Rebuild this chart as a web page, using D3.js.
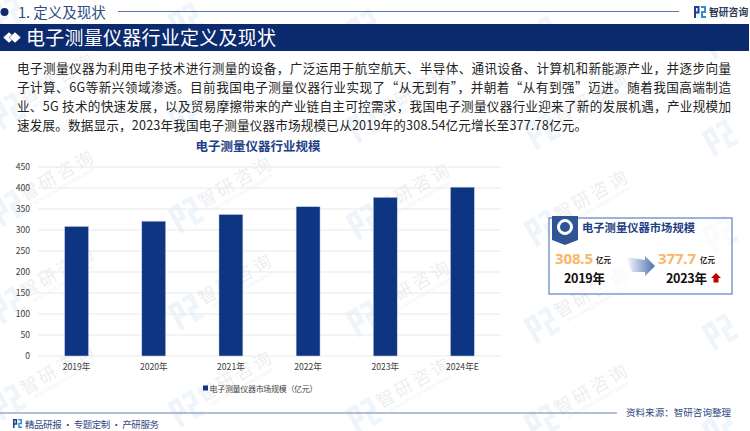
<!DOCTYPE html>
<html>
<head>
<meta charset="utf-8">
<script src="https://cdnjs.cloudflare.com/ajax/libs/d3/7.8.5/d3.min.js"></script>
<style>
	html, body { margin: 0; padding: 0; background: #fff; }
	svg { display: block; font-family: "Noto Sans CJK SC", "Noto Sans", sans-serif; }
	.axis path, .axis line { display: none; }
	.axis text { font-size: 8.6px; fill: #404040; font-family: "Noto Sans CJK SC", "Noto Sans", sans-serif; }
</style>
</head>
<body>
<div id="chart"></div>
<script>
//chart data
const years = ["2019年", "2020年", "2021年", "2022年", "2023年", "2024年E"];
const marketSize = [308.54, 321, 337, 355.5, 377.78, 402];
const yTicks = [0, 50, 100, 150, 200, 250, 300, 350, 400, 450];

//page text
const bodyLines = [
	"电子测量仪器为利用电子技术进行测量的设备，广泛运用于航空航天、半导体、通讯设备、计算机和新能源产业，并逐步向量",
	"子计算、6G等新兴领域渗透。目前我国电子测量仪器行业实现了“从无到有”，并朝着“从有到强”迈进。随着我国高端制造",
	"业、5G 技术的快速发展，以及贸易摩擦带来的产业链自主可控需求，我国电子测量仪器行业迎来了新的发展机遇，产业规模加",
	"速发展。数据显示，2023年我国电子测量仪器市场规模已从2019年的308.54亿元增长至377.78亿元。"
];
const bodyWidths = [714, 714, 714, 570];

const navy = "#0c2a6e", barBlue = "#0d3582", titleBlue = "#1f3f86";

let svg = d3.select("#chart").append("svg")
	.attr("width", 750)
	.attr("height", 431);

//logo mark, two interlocked pieces
function logo(g, size, c1, c2) {
	let s = size / 12;
	g.append("path")
		.attr("d", `M0 ${12*s}V0H${5.5*s}V${7.5*s}H${2*s}V${12*s}Z M${2*s} ${2*s}V${5.5*s}H${3.5*s}V${2*s}Z`)
		.attr("fill-rule", "evenodd")
		.attr("fill", c1);
	g.append("path")
		.attr("d", `M${7*s} 0H${12*s}V${7*s}H${9*s}V${10*s}H${12*s}V${12*s}H${7*s}V${5*s}H${10*s}V${2*s}H${7*s}Z`)
		.attr("fill", c2);
}

/* WATERMARK */
let wm = svg.append("g").attr("class", "watermark");
d3.range(0, 5).forEach(function(i) {
	d3.range(-3, 2).forEach(function(j) {
		let lx = 8 + 178 * i, ly = 305 + 6.7 * i + 97 * j;
		let lg = wm.append("g")
			.attr("transform", `translate(${lx},${ly}) rotate(-30) translate(-14,-14)`)
			.attr("opacity", 0.07);
		logo(lg, 28, "#2f78c0", "#2f90d0");
		let tx = lx + 51, ty = ly - 31;
		//only whole wordmarks, the page edge would cut the others
		if (ty < 26 || tx > 705) { return; }
		let tg = wm.append("g")
			.attr("transform", `translate(${tx},${ty}) rotate(-30)`)
			.attr("fill", "#50607a")
			.attr("opacity", 0.1);
		tg.append("text")
			.attr("text-anchor", "middle")
			.attr("y", 4)
			.style("font-size", "18px")
			.style("letter-spacing", "3px")
			.text("智研咨询");
		tg.append("text")
			.attr("text-anchor", "middle")
			.attr("y", 12)
			.style("font-size", "4.5px")
			.text("INTELLIGENCE RESEARCH GROUP");
	});
});

/* HEADER */
svg.append("circle").attr("cx", 4.5).attr("cy", 12).attr("r", 4).attr("fill", navy);
svg.append("text")
	.attr("x", 18).attr("y", 18)
	.attr("fill", "#2f4a7f")
	.style("font-size", "14.5px")
	.text("1. 定义及现状");
svg.append("line")
	.attr("x1", 118).attr("x2", 679).attr("y1", 11.5).attr("y2", 11.5)
	.attr("stroke", "#5a74a8").attr("stroke-width", 1);
let topLogo = svg.append("g").attr("transform", "translate(694,6)");
logo(topLogo, 12, "#1c3f94", "#2f8fd6");
svg.append("text")
	.attr("x", 709).attr("y", 16)
	.attr("fill", "#2b3a55")
	.style("font-size", "9.8px").style("font-weight", 700)
	.text("智研咨询");

svg.append("rect")
	.attr("x", 0).attr("y", 24).attr("width", 749).attr("height", 27)
	.attr("fill", navy);
//two white diamonds in the band
[9, 15].forEach(function(cx) {
	svg.append("path")
		.attr("d", `M${cx - 6} 37.5L${cx} 32L${cx + 6} 37.5L${cx} 43Z`)
		.attr("fill", "#fff")
		.attr("stroke", navy).attr("stroke-width", 0.5);
});
svg.append("text")
	.attr("x", 26).attr("y", 45)
	.attr("fill", "#fff")
	.attr("textLength", 250)
	.style("font-size", "19px")
	.text("电子测量仪器行业定义及现状");

svg.selectAll(".body-line")
	.data(bodyLines)
	.enter().append("text")
	.attr("class", "body-line")
	.attr("x", 17)
	.attr("y", function(d, i) { return 72.5 + i * 19; })
	.attr("textLength", function(d, i) { return bodyWidths[i]; })
	.attr("fill", "#222")
	.style("font-size", "12.6px")
	.text(function(d) { return d; });

/* BAR CHART */
let x = d3.scaleBand().domain(years).range([38, 501]).paddingInner(0.69).paddingOuter(0.345);
let y = d3.scaleLinear().domain([0, 450]).range([356, 167]);

svg.append("text")
	.attr("x", 258).attr("y", 150.5)
	.attr("text-anchor", "middle")
	.attr("fill", titleBlue)
	.style("font-size", "12.5px").style("font-weight", 700)
	.text("电子测量仪器行业规模");

svg.append("g").selectAll("line")
	.data(yTicks)
	.enter().append("line")
	.attr("x1", 38).attr("x2", 501)
	.attr("y1", function(d) { return y(d); })
	.attr("y2", function(d) { return y(d); })
	.attr("stroke", "#e9e9e9").attr("stroke-width", 1.2);

svg.append("g").attr("class", "axis")
	.attr("transform", "translate(38,0)")
	.call(d3.axisLeft(y).tickValues(yTicks).tickSize(0).tickPadding(8));

svg.append("g").attr("class", "axis")
	.attr("transform", "translate(0,356)")
	.call(d3.axisBottom(x).tickSize(0).tickPadding(8));

svg.selectAll(".bar")
	.data(marketSize)
	.enter().append("rect")
	.attr("class", "bar")
	.attr("x", function(d, i) { return x(years[i]); })
	.attr("y", function(d) { return y(d); })
	.attr("width", x.bandwidth())
	.attr("height", function(d) { return y(0) - y(d); })
	.attr("fill", barBlue)
	.attr("stroke", "#c9d5ea").attr("stroke-width", 0.5);

//legend
svg.append("rect")
	.attr("x", 203).attr("y", 385.5).attr("width", 5).attr("height", 5)
	.attr("fill", barBlue);
svg.append("text")
	.attr("x", 209.5).attr("y", 391.5)
	.attr("textLength", 108)
	.attr("fill", "#404040")
	.style("font-size", "8px")
	.text("电子测量仪器市场规模（亿元）");

/* MARKET SIZE PANEL */
let defs = svg.append("defs");
let grad = defs.append("linearGradient").attr("id", "arrowGrad");
grad.append("stop").attr("offset", "0%").attr("stop-color", "#ffffff");
grad.append("stop").attr("offset", "100%").attr("stop-color", "#4a6fb0");

svg.append("rect")
	.attr("x", 549).attr("y", 218).attr("width", 183).attr("height", 76)
	.attr("fill", "#fff").attr("fill-opacity", 0.6)
	.attr("stroke", "#5b82c0").attr("stroke-width", 1.2);
svg.append("path")
	.attr("d", "M552 216H578V240L565 245L552 240Z")
	.attr("fill", "#2f5597");
svg.append("circle").attr("cx", 565).attr("cy", 227).attr("r", 7.5)
	.attr("fill", "#fff").attr("stroke", "#fff");
svg.append("circle").attr("cx", 565).attr("cy", 227).attr("r", 5)
	.attr("fill", "#2f5597");
svg.append("text")
	.attr("x", 582).attr("y", 232)
	.attr("textLength", 113)
	.attr("fill", titleBlue)
	.style("font-size", "11.3px").style("font-weight", 700)
	.text("电子测量仪器市场规模");

function panelValue(vx, value, unitX, yearX, yearLabel) {
	svg.append("text")
		.attr("x", vx).attr("y", 264)
		.attr("textLength", 38)
		.attr("fill", "#f9b768")
		.style("font-size", "15px").style("font-weight", 700)
		.style("font-family", "'Noto Sans', sans-serif")
		.text(value);
	svg.append("text")
		.attr("x", unitX).attr("y", 263)
		.attr("fill", "#222")
		.style("font-size", "7.5px").style("font-weight", 700)
		.text("亿元");
	svg.append("text")
		.attr("x", yearX).attr("y", 283)
		.attr("textLength", 41)
		.attr("fill", "#111")
		.style("font-size", "12.6px").style("font-weight", 700)
		.text(yearLabel);
}
panelValue(555, "308.5", 596, 564, "2019年");
panelValue(658, "377.7", 700, 666, "2023年");

svg.append("path")
	.attr("d", "M626 257L645 260L645 256L655 266L645 276L645 272L632 272Z")
	.attr("fill", "url(#arrowGrad)");
svg.append("path")
	.attr("d", "M716 273L721 278H718.5V282.5H713.5V278H711Z")
	.attr("fill", "#c00000");

/* FOOTER */
svg.append("line")
	.attr("x1", 0).attr("x2", 617).attr("y1", 413).attr("y2", 413)
	.attr("stroke", "#6a80ab").attr("stroke-width", 1);
let footLogo = svg.append("g").attr("transform", "translate(13,419)");
logo(footLogo, 9, "#1c3f94", "#2f8fd6");
svg.append("text")
	.attr("x", 25).attr("y", 428)
	.attr("textLength", 134)
	.attr("fill", "#2f4a7f")
	.style("font-size", "9.5px")
	.text("精品研报 · 专题定制 · 产研服务");
svg.append("text")
	.attr("x", 626).attr("y", 416)
	.attr("textLength", 105)
	.attr("fill", "#2f4a7f")
	.style("font-size", "9.5px")
	.text("资料来源：智研咨询整理");
</script>
</body>
</html>
